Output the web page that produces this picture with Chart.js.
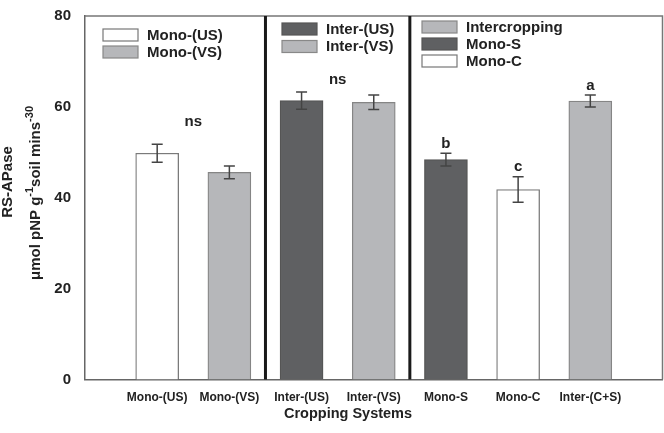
<!DOCTYPE html>
<html>
<head>
<meta charset="utf-8">
<script src="https://cdn.jsdelivr.net/npm/chart.js@4"></script>
<style>
  html, body { margin: 0; padding: 0; background: #fff; }
  #wrap { width: 664px; height: 433px; }
</style>
</head>
<body>
<div id="wrap"><canvas id="rsChart" width="664" height="433"></canvas></div>
<script>
// values
var categories = ['Mono-(US)', 'Mono-(VS)', 'Inter-(US)', 'Inter-(VS)', 'Mono-S', 'Mono-C', 'Inter-(C+S)'];
var means = [49.8, 45.6, 61.4, 61.0, 48.4, 41.8, 61.3];
var errors = [2.0, 1.4, 1.9, 1.6, 1.4, 2.8, 1.3];
var letters = ['', '', '', '', 'b', 'c', 'a'];
var yTicks = [0, 20, 40, 60, 80];

var WHITE = '#ffffff', LIGHT = '#b6b7ba', DARK = '#5f6062';
var barColors = [WHITE, LIGHT, DARK, LIGHT, DARK, WHITE, LIGHT];
var barBorders = ['#7a7a7a', '#858585', '#555555', '#858585', '#555555', '#7a7a7a', '#858585'];

var FONT = "'Liberation Sans', Arial, sans-serif";

// empty slot on each side so the bars sit inside the frame like the original
var labels = [''].concat(categories, ['']);
var values = [null].concat(means, [null]);

var decor = {
  id: 'decor',
  afterDatasetsDraw: function (chart) {
    var ctx = chart.ctx, x = chart.scales.x, y = chart.scales.y, a = chart.chartArea;
    ctx.save();

    // top / right frame
    ctx.strokeStyle = '#777';
    ctx.lineWidth = 1.5;
    ctx.beginPath();
    ctx.moveTo(a.left, a.top);
    ctx.lineTo(a.right, a.top);
    ctx.lineTo(a.right, a.bottom);
    ctx.stroke();

    // group separators (between the pairs)
    ctx.strokeStyle = '#1a1a1a';
    ctx.lineWidth = 3;
    [2.5, 4.5].forEach(function (p) {
      var px = x.getPixelForValue(p);
      ctx.beginPath();
      ctx.moveTo(px, a.top);
      ctx.lineTo(px, a.bottom);
      ctx.stroke();
    });

    // error bars + letters
    ctx.strokeStyle = '#444';
    ctx.lineWidth = 1.5;
    ctx.fillStyle = '#222';
    ctx.font = 'bold 15px ' + FONT;
    ctx.textAlign = 'center';
    ctx.textBaseline = 'bottom';
    means.forEach(function (m, i) {
      var px = x.getPixelForValue(i + 1);
      var top = y.getPixelForValue(m + errors[i]);
      var bot = y.getPixelForValue(m - errors[i]);
      ctx.beginPath();
      ctx.moveTo(px, top); ctx.lineTo(px, bot);
      ctx.moveTo(px - 5.5, top); ctx.lineTo(px + 5.5, top);
      ctx.moveTo(px - 5.5, bot); ctx.lineTo(px + 5.5, bot);
      ctx.stroke();
      if (letters[i]) ctx.fillText(letters[i], px, top - 2);
    });

    // "ns" over the first two groups
    ctx.textBaseline = 'middle';
    [[1.5, 56.7], [3.5, 65.9]].forEach(function (n) {
      ctx.fillText('ns', x.getPixelForValue(n[0]), y.getPixelForValue(n[1]));
    });

    // legends
    var legends = [
      { x: 103, y: 29, step: 17, items: [['Mono-(US)', WHITE, '#777'], ['Mono-(VS)', LIGHT, '#888']] },
      { x: 282, y: 23, step: 17.5, items: [['Inter-(US)', DARK, '#555'], ['Inter-(VS)', LIGHT, '#888']] },
      { x: 422, y: 21, step: 17, items: [['Intercropping', LIGHT, '#888'], ['Mono-S', DARK, '#555'], ['Mono-C', WHITE, '#777']] }
    ];
    ctx.textAlign = 'left';
    ctx.lineWidth = 1.2;
    legends.forEach(function (lg) {
      lg.items.forEach(function (it, k) {
        var by = lg.y + k * lg.step;
        ctx.fillStyle = it[1];
        ctx.fillRect(lg.x, by, 35, 12);
        ctx.strokeStyle = it[2];
        ctx.strokeRect(lg.x, by, 35, 12);
        ctx.fillStyle = '#222';
        ctx.fillText(it[0], lg.x + 44, by + 6.5);
      });
    });

    // axis titles
    ctx.fillStyle = '#222';
    ctx.textAlign = 'center';
    ctx.font = 'bold 14.5px ' + FONT;
    ctx.fillText('Cropping Systems', 348, 414);

    ctx.save();
    ctx.translate(8, 182);
    ctx.rotate(-Math.PI / 2);
    ctx.font = 'bold 15px ' + FONT;
    ctx.fillText('RS-APase', 0, 0);
    ctx.restore();

    ctx.save();
    ctx.translate(36, 193);
    ctx.rotate(-Math.PI / 2);
    var parts = [['\u03bcmol pNP g', false], ['-1', true], ['soil mins', false], ['-30', true]];
    var total = 0;
    parts.forEach(function (p) {
      ctx.font = (p[1] ? 'bold 11px ' : 'bold 15px ') + FONT;
      p.w = ctx.measureText(p[0]).width;
      total += p.w;
    });
    var cx = -total / 2;
    ctx.textAlign = 'left';
    parts.forEach(function (p) {
      ctx.font = (p[1] ? 'bold 11px ' : 'bold 15px ') + FONT;
      ctx.fillText(p[0], cx, p[1] ? -6 : 0);
      cx += p.w;
    });
    ctx.restore();

    ctx.restore();
  }
};

new Chart(document.getElementById('rsChart'), {
  type: 'bar',
  data: {
    labels: labels,
    datasets: [{
      data: values,
      backgroundColor: [null].concat(barColors, [null]),
      borderColor: [null].concat(barBorders, [null]),
      borderWidth: 1.3,
      barThickness: 43
    }]
  },
  options: {
    responsive: false,
    animation: false,
    layout: { padding: { top: 6, right: 1.5, left: 0, bottom: 0 } },
    plugins: { legend: { display: false }, tooltip: { enabled: false } },
    scales: {
      x: {
        offset: false,
        grid: { display: false, drawTicks: false },
        border: { display: true, color: '#666', width: 1.5 },
        ticks: {
          autoSkip: false, maxRotation: 0, padding: 11, color: '#222',
          font: { family: FONT, size: 12, weight: 'bold' }
        },
        afterFit: function (s) { s.height = 53.5; s.paddingLeft = 0; s.paddingRight = 0; }
      },
      y: {
        min: 0, max: 80,
        afterBuildTicks: function (s) { s.ticks = yTicks.map(function (v) { return { value: v }; }); },
        grid: { display: false, drawOnChartArea: false, drawTicks: true, tickLength: 7, color: '#666' },
        border: { display: true, color: '#666', width: 1.5 },
        ticks: {
          padding: 7, color: '#222',
          font: { family: FONT, size: 15, weight: 'bold' }
        },
        afterFit: function (s) { s.width = 85; }
      }
    }
  },
  plugins: [decor]
});
</script>
</body>
</html>
